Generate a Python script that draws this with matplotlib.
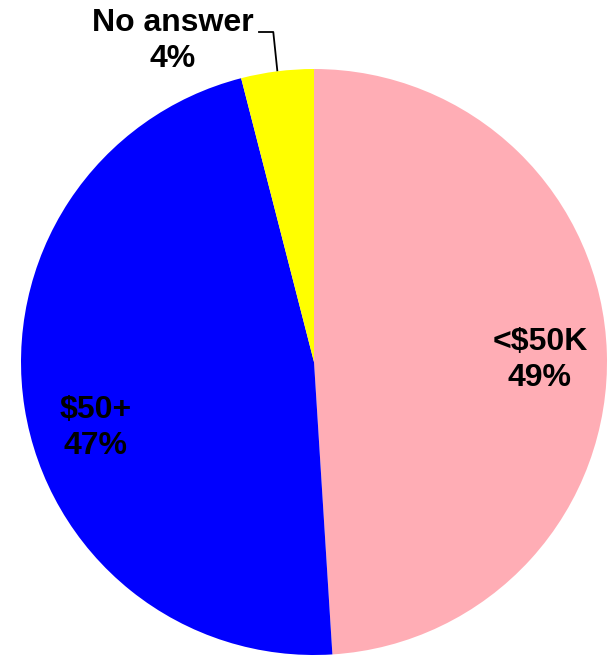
import numpy as np
import matplotlib
matplotlib.use('Agg')
import matplotlib.pyplot as plt

# income split of respondents
labels = ['<$50K', '$50+', 'No answer']
shares = [49, 47, 4]
colors = ['#FFADB5', '#0000FF', '#FFFF00']

W, H = 611, 656
fig = plt.figure(figsize=(W / 100, H / 100), dpi=100)
ax = fig.add_axes([0, 0, 1, 1])

cx, cy, r = 314, H - 362, 293
wedges, _ = ax.pie(shares, colors=colors, startangle=90, counterclock=False,
                   center=(cx, cy), radius=r, frame=True,
                   wedgeprops=dict(linewidth=0))
ax.set_xlim(0, W)
ax.set_ylim(0, H)
ax.set_aspect('equal')
ax.axis('off')

font = dict(family=['Liberation Sans', 'DejaVu Sans'], fontsize=23,
            fontweight='bold', ha='center', va='center', linespacing=1.22)

# label spots (pixels from top-left)
spots = [(540, 360), (96, 428), (173, 41)]
for lab, s, (x, y) in zip(labels, shares, spots):
    ax.text(x, H - y, '{}\n{}%'.format(lab, s), **font)

# leader line for the small slice
w = wedges[2]
mid = np.deg2rad((w.theta1 + w.theta2) / 2)
ex, ey = cx + r * np.cos(mid), cy + r * np.sin(mid)
ax.plot([259, ex - 4, ex], [H - 32, H - 32, ey + 1], color='black', lw=1.3)

fig.savefig('out.png', dpi=100)
